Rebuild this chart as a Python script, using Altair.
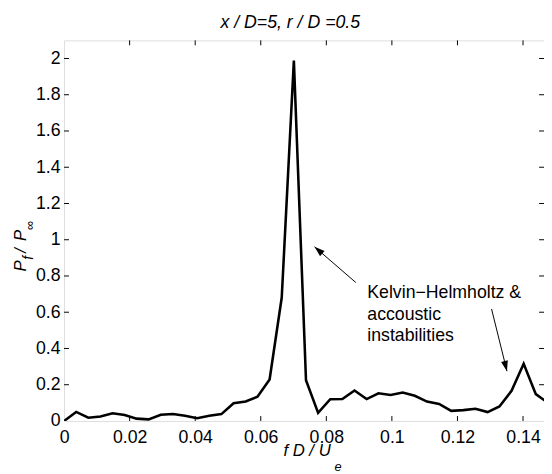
import altair as alt
import pandas as pd

# ---- data ----
freq = [0.0, 0.0037, 0.0074, 0.0111, 0.0148, 0.0185, 0.0221, 0.0258, 0.0295, 0.0332,
        0.0369, 0.0406, 0.0443, 0.0480, 0.0517, 0.0554, 0.0590, 0.0627, 0.0664, 0.0701,
        0.0738, 0.0775, 0.0812, 0.0849, 0.0886, 0.0923, 0.0959, 0.0996, 0.1033, 0.1070,
        0.1107, 0.1144, 0.1181, 0.1218, 0.1255, 0.1292, 0.1328, 0.1365, 0.1402, 0.1439,
        0.1476]
power = [0.0, 0.050, 0.018, 0.025, 0.043, 0.033, 0.013, 0.009, 0.034, 0.038,
         0.029, 0.015, 0.029, 0.038, 0.098, 0.108, 0.134, 0.229, 0.681, 1.988,
         0.225, 0.045, 0.120, 0.121, 0.168, 0.121, 0.153, 0.143, 0.157, 0.139,
         0.107, 0.094, 0.056, 0.060, 0.067, 0.049, 0.080, 0.166, 0.316, 0.148,
         0.100]

x_ticks = [0, 0.02, 0.04, 0.06, 0.08, 0.1, 0.12, 0.14]
y_ticks = [0, 0.2, 0.4, 0.6, 0.8, 1.0, 1.2, 1.4, 1.6, 1.8, 2.0]

title_text = "x / D=5, r / D =0.5"
note_lines = ["Kelvin\u2212Helmholtz &", "accoustic", "instabilities"]
note_x = [0.0925, 0.0925, 0.0925]
note_y = [0.705, 0.585, 0.466]

arrow_x1 = [0.0890, 0.1304]
arrow_y1 = [0.764, 0.618]
arrow_x2 = [0.0764, 0.1351]
arrow_y2 = [0.961, 0.275]
arrow_angle = [311, 166]

X_MAX = 0.1464
Y_MAX = 2.1
W, H = 488, 387
FONT = "Liberation Sans"
FS = 18

xs = alt.Scale(domain=[0, X_MAX], nice=False, zero=False)
ys = alt.Scale(domain=[0, Y_MAX], nice=False, zero=False)

df = pd.DataFrame({"f": freq, "p": power})

XA = alt.Axis(values=x_ticks, format=".2~f", labelFont=FONT, labelFontSize=FS,
              labelColor="black", ticks=False, tickSize=0, domain=False,
              grid=False, title=None, labelPadding=8, labelFlush=False,
              labelOverlap=False, labelBound=False)
YA = alt.Axis(values=y_ticks, format=".1~f", labelFont=FONT, labelFontSize=FS,
              labelColor="black", ticks=False, tickSize=0, domain=False,
              grid=False, title=None, labelPadding=4, labelFlush=False,
              labelOverlap=False, labelBound=False)

line = alt.Chart(df).mark_line(color="black", strokeWidth=2.6, clip=True,
                               strokeJoin="miter").encode(
    x=alt.X("f:Q", scale=xs, axis=XA),
    y=alt.Y("p:Q", scale=ys, axis=YA),
)

# inner tick marks (MATLAB style box ticks)
xt = pd.DataFrame({"t": x_ticks[1:]})
yt = pd.DataFrame({"t": y_ticks[1:]})
tick_style = dict(color="black", strokeWidth=1)
xt_bottom = alt.Chart(xt).mark_rule(**tick_style).encode(
    x=alt.X("t:Q", scale=xs, axis=XA), y=alt.value(H), y2=alt.value(H - 5))
xt_top = alt.Chart(xt).mark_rule(**tick_style).encode(
    x=alt.X("t:Q", scale=xs, axis=XA), y=alt.value(0), y2=alt.value(5))
yt_left = alt.Chart(yt).mark_rule(**tick_style).encode(
    y=alt.Y("t:Q", scale=ys, axis=YA), x=alt.value(0), x2=alt.value(5))
yt_right = alt.Chart(yt).mark_rule(**tick_style).encode(
    y=alt.Y("t:Q", scale=ys, axis=YA), x=alt.value(W), x2=alt.value(W - 5))

# annotation text
notes = alt.Chart(pd.DataFrame({"x": note_x, "y": note_y, "t": note_lines})).mark_text(
    align="left", baseline="middle", font=FONT, fontSize=FS, color="black").encode(
    x=alt.X("x:Q", scale=xs, axis=XA), y=alt.Y("y:Q", scale=ys, axis=YA), text="t:N")

adf = pd.DataFrame({"x1": arrow_x1, "y1": arrow_y1, "x2": arrow_x2, "y2": arrow_y2,
                    "a": arrow_angle})
arrow_lines = alt.Chart(adf).mark_rule(color="black", strokeWidth=1).encode(
    x=alt.X("x1:Q", scale=xs, axis=XA), y=alt.Y("y1:Q", scale=ys, axis=YA),
    x2="x2:Q", y2="y2:Q")
arrow_heads = alt.Chart(adf).mark_point(
    shape="M0,0L-0.7,2.1L0.7,2.1Z", filled=True, color="black", opacity=1,
    size=100, strokeWidth=0).encode(
    x=alt.X("x2:Q", scale=xs, axis=XA), y=alt.Y("y2:Q", scale=ys, axis=YA),
    angle=alt.Angle("a:Q", scale=None))

# title and axis titles as text
one = pd.DataFrame({"t": [title_text]})
title = alt.Chart(one).mark_text(align="center", baseline="middle", font=FONT,
                                 fontSize=FS, fontStyle="italic", color="black").encode(
    x=alt.value(230), y=alt.value(-18), text="t:N")

def txt(s, x, y, size=FS, angle=0, align="left", baseline="middle"):
    params = dict(align=align, baseline=baseline, font=FONT, fontSize=size,
                  fontStyle="italic", color="black")
    if angle:
        params["angle"] = angle
    return alt.Chart(pd.DataFrame({"t": [s]})).mark_text(**params).encode(
        x=alt.value(x), y=alt.value(y), text="t:N")

xlab_main = txt("f D / U", 223, 418, size=17)
xlab_sub = txt("e", 275, 434, size=13)

ylab_p1 = txt("P", -44, 235, size=17, angle=270)
ylab_f = txt("f", -36, 223, size=14, angle=270)
ylab_sl = txt("/", -44, 216, size=17, angle=270)
ylab_p2 = txt("P", -44, 204, size=17, angle=270)
ylab_inf = txt("\u221e", -35, 193, size=13, angle=270)

chart = alt.layer(
    line, xt_bottom, xt_top, yt_left, yt_right, notes, arrow_lines, arrow_heads,
    title, xlab_main, xlab_sub, ylab_p1, ylab_f, ylab_sl, ylab_p2, ylab_inf,
).properties(
    width=W, height=H,
    padding={"left": 57, "top": 29, "right": 0, "bottom": 50},
    autosize=alt.AutoSizeParams(type="none"),
).configure_view(stroke="black", strokeWidth=1).configure(background="white")

chart.save("out.html", embed_options={"renderer": "svg", "actions": False})
